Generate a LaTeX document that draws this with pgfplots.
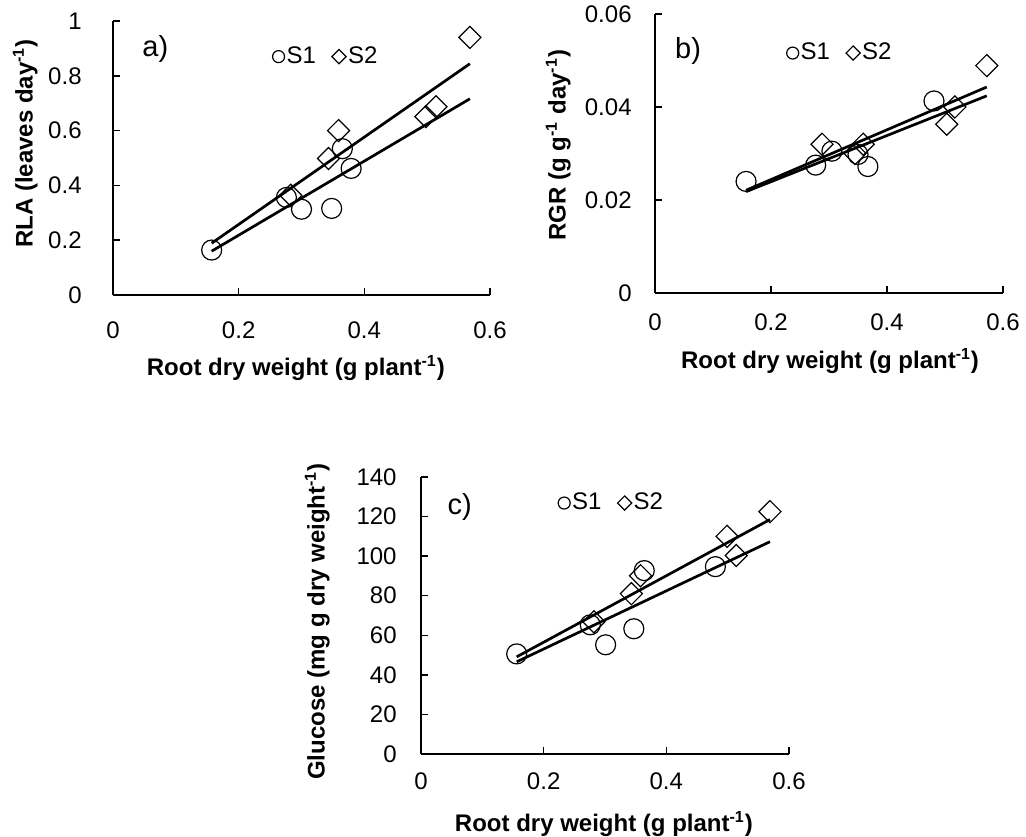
\documentclass[border=0pt]{standalone}
\usepackage{fontspec}
\setmainfont{Liberation Sans}
\usepackage{pgfplots}
\pgfplotsset{compat=1.18}
\pgfplotsset{
  panel/.style={
    scale only axis,
    anchor=south west,
    clip=false,
    axis x line*=bottom, axis y line*=left,
    axis line style={line width=0.75pt, black},
    tick align=inside, major tick length=3.5pt,
    tick style={line width=0.75pt, black},
    scaled x ticks=false, scaled y ticks=false,
    xmin=0, xmax=0.6, xtick={0,0.2,0.4,0.6}, xticklabels={0,0.2,0.4,0.6},
    tick label style={font=\fontsize{12}{14}\selectfont, inner sep=0pt},
    xlabel={Root dry weight (g plant\textsuperscript{-1})},
    legend columns=2,
    legend style={draw=none, fill=none, anchor=center, inner sep=0pt,
      font=\fontsize{12}{14}\selectfont,
      nodes={inner sep=1pt},
      /tikz/every even column/.append style={column sep=7pt}},
    legend image code/.code={\draw[##1] plot coordinates {(0pt,0pt)};},
  },
  s1/.style={only marks, mark=o, mark size=5pt, mark options={line width=0.6pt, black}, forget plot},
  s2/.style={only marks, mark=square, mark size=3.9pt, mark options={rotate=45, line width=0.6pt, black}, forget plot},
  fit/.style={no marks, line width=1.35pt, black, forget plot},
}
\newcommand{\lab}{\fontsize{12}{14}\selectfont\bfseries}
\newcommand{\pan}{\fontsize{14.5}{17}\selectfont}
\begin{document}
\begin{tikzpicture}
\useasboundingbox (0pt,0pt) rectangle (513pt,418pt);

% ---------------- panel a ----------------
\begin{axis}[panel, at={(56.5pt,270.5pt)}, width=188.5pt, height=137pt,
  ymin=0, ymax=1, ytick={0,0.2,0.4,0.6,0.8,1}, yticklabels={0,0.2,0.4,0.6,0.8,1},
  yticklabel style={xshift=-15.5pt}, xticklabel style={yshift=-13pt},
  ylabel={RLA (leaves day\textsuperscript{-1})},
  every axis y label/.style={at={([xshift=-37.5pt]axis description cs:0,0.553)}, rotate=90, anchor=south, inner sep=0pt, font=\lab},
  every axis x label/.style={at={([yshift=-30pt]axis description cs:0.485,0)}, anchor=north, inner sep=0pt, font=\lab},
  legend style={at={(axis description cs:0.565,0.870)}},
]
\addlegendimage{only marks, mark=o, mark size=3pt, mark options={line width=0.6pt}}
\addlegendentry{S1}
\addlegendimage{only marks, mark=square, mark size=2.5pt, mark options={rotate=45, line width=0.6pt}}
\addlegendentry{S2}
\addplot[s1] coordinates {(0.157,0.164) (0.276,0.356) (0.300,0.313) (0.348,0.316) (0.365,0.534) (0.379,0.462)};
\addplot[s2] coordinates {(0.283,0.364) (0.343,0.498) (0.359,0.600) (0.498,0.651) (0.514,0.687) (0.568,0.940)};
\addplot[fit] coordinates {(0.157,0.189) (0.568,0.844)};
\addplot[fit] coordinates {(0.157,0.160) (0.568,0.716)};
\node[anchor=west, inner sep=0pt, font=\pan] at (axis description cs:0.077,0.898) {a)};
\end{axis}

% ---------------- panel b ----------------
\begin{axis}[panel, at={(327.5pt,271.5pt)}, width=174pt, height=139.5pt,
  ymin=0, ymax=0.06, ytick={0,0.02,0.04,0.06}, yticklabels={0,0.02,0.04,0.06},
  yticklabel style={xshift=-11.5pt}, xticklabel style={yshift=-10pt},
  ylabel={RGR (g g\textsuperscript{-1} day\textsuperscript{-1})},
  every axis y label/.style={at={([xshift=-42pt]axis description cs:0,0.53)}, rotate=90, anchor=south, inner sep=0pt, font=\lab},
  every axis x label/.style={at={([yshift=-27.5pt]axis description cs:0.503,0)}, anchor=north, inner sep=0pt, font=\lab},
  legend style={at={(axis description cs:0.532,0.860)}},
]
\addlegendimage{only marks, mark=o, mark size=3pt, mark options={line width=0.6pt}}
\addlegendentry{S1}
\addlegendimage{only marks, mark=square, mark size=2.5pt, mark options={rotate=45, line width=0.6pt}}
\addlegendentry{S2}
\addplot[s1] coordinates {(0.157,0.0240) (0.277,0.0275) (0.305,0.0305) (0.350,0.0298) (0.367,0.0272) (0.481,0.0413)};
\addplot[s2] coordinates {(0.288,0.0320) (0.345,0.0300) (0.359,0.0320) (0.503,0.0363) (0.517,0.0400) (0.572,0.0489)};
\addplot[fit] coordinates {(0.157,0.0221) (0.572,0.0443)};
\addplot[fit] coordinates {(0.157,0.0218) (0.572,0.0424)};
\node[anchor=west, inner sep=0pt, font=\pan] at (axis description cs:0.057,0.867) {b)};
\end{axis}

% ---------------- panel c ----------------
\begin{axis}[panel, at={(210.5pt,41pt)}, width=184pt, height=138.5pt,
  ymin=0, ymax=140, ytick={0,20,40,60,80,100,120,140}, yticklabels={0,20,40,60,80,100,120,140},
  yticklabel style={xshift=-12pt}, xticklabel style={yshift=-9pt},
  ylabel={Glucose (mg g dry weight\textsuperscript{-1})},
  every axis y label/.style={at={([xshift=-45.5pt]axis description cs:0,0.478)}, rotate=90, anchor=south, inner sep=0pt, font=\lab},
  every axis x label/.style={at={([yshift=-28.5pt]axis description cs:0.497,0)}, anchor=north, inner sep=0pt, font=\lab},
  legend style={at={(axis description cs:0.518,0.906)}},
]
\addlegendimage{only marks, mark=o, mark size=3pt, mark options={line width=0.6pt}}
\addlegendentry{S1}
\addlegendimage{only marks, mark=square, mark size=2.5pt, mark options={rotate=45, line width=0.6pt}}
\addlegendentry{S2}
\addplot[s1] coordinates {(0.156,50.6) (0.276,65.3) (0.301,55.2) (0.347,63.3) (0.364,92.7) (0.480,94.7)};
\addplot[s2] coordinates {(0.282,66.8) (0.343,81.0) (0.358,90.1) (0.499,110.0) (0.514,100.3) (0.569,122.5)};
\addplot[fit] coordinates {(0.156,49.1) (0.569,118.5)};
\addplot[fit] coordinates {(0.156,46.6) (0.569,107.3)};
\node[anchor=west, inner sep=0pt, font=\pan] at (axis description cs:0.071,0.890) {c)};
\end{axis}
\end{tikzpicture}
\end{document}
